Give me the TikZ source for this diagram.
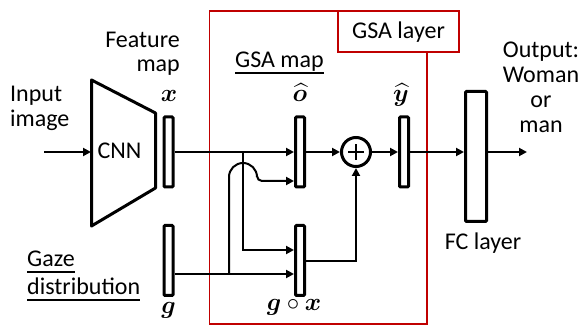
\documentclass[tikz,border=0pt]{standalone}
\usepackage{fontspec}
\setmainfont{Carlito}
\usepackage{amsmath}
\usepackage{bm}
\usetikzlibrary{arrows.meta}
\definecolor{gsared}{HTML}{C00000}
\begin{document}
\begin{tikzpicture}[x=1pt,y=-1pt,
  lbl/.style={inner sep=0pt,font=\fontsize{24}{25}\selectfont},
  mth/.style={inner sep=0pt,font=\fontsize{23}{25}\selectfont},
  bar/.style={draw,line width=3pt,rounded corners=1pt,minimum width=9pt,inner sep=0pt},
  conn/.style={line width=2pt,-{Triangle[length=8pt,width=8pt]}},
  uline/.style={line width=1.8pt}]
\useasboundingbox (0,0) rectangle (582,326);
% red GSA layer frame
\draw[gsared,line width=1.5pt] (209.5,11) rectangle (427,324);
\node[draw=gsared,fill=white,line width=1.5pt,minimum width=121pt,minimum height=41pt,inner sep=0pt] (gsabox) at (398.5,31.5) {};
\node[lbl,anchor=base] (gsalbl) at (398.5,39) {GSA layer};
% CNN
\draw[line width=3pt,line join=round] (91.5,80) -- (155.5,113) -- (155.5,188) -- (91.5,226) -- cycle;
\node[lbl,anchor=base] (cnn) at (119.5,159) {CNN};
\coordinate (cnnin) at (91,152);
\coordinate (inp) at (44,152);
% bars
\node[bar,minimum height=70pt] (xbar) at (168.5,152) {};
\node[bar,minimum height=70pt] (gbar) at (168.5,260.5) {};
\node[bar,minimum height=70pt] (obar) at (300,152) {};
\node[bar,minimum height=70pt] (gxbar) at (300,260.5) {};
\node[bar,minimum height=70pt] (ybar) at (404,152) {};
\node[bar,minimum width=21pt,minimum height=130pt] (fc) at (476,156.5) {};
\node[draw,circle,line width=3pt,minimum size=29pt,inner sep=0pt] (plus) at (356,152) {};
\draw[line width=1.5pt] ([xshift=-8pt]plus.center) -- ([xshift=8pt]plus.center)
  ([yshift=-8pt]plus.center) -- ([yshift=8pt]plus.center);
\coordinate (outp) at (527,152);
% connectors
\draw[conn] (inp) -- (cnnin);
\draw[conn] (xbar.east) -- (obar.west);
\coordinate (br) at (243,152);
\draw[conn] (br) -- (243,250) -- (gxbar.west |- 0,250);
\draw[conn] (gbar.east |- 0,274) -- (gxbar.west |- 0,274);
\draw[conn] (229,274) -- (229,177) arc[start angle=180,end angle=360,radius=14]
  [rounded corners=5pt] -- (257,181) -- (obar.west |- 0,181);
\draw[conn] (gxbar.east |- 0,261) -- (plus.south |- 0,261) -- (plus.south);
\draw[conn] (obar.east) -- (plus.west);
\draw[conn] (plus.east) -- (ybar.west);
\draw[conn] (ybar.east) -- (fc.west |- 0,152);
\draw[conn] (fc.east |- 0,152) -- (outp);
% texts
\node[lbl,anchor=base west] (in1) at (10,102) {Input};
\node[lbl,anchor=base west] (in2) at (10,127) {image};
\node[lbl,anchor=base east] (fm1) at (180,48) {Feature};
\node[lbl,anchor=base east] (fm2) at (180,72) {map};
\node[mth,anchor=base] (xl) at (169,102) {$\bm{x}$};
\node[lbl,anchor=base west] (gz1) at (27,267) {Gaze};
\node[lbl,anchor=base west] (gz2) at (27,295) {distribution};
\draw[uline] ([yshift=-5pt]gz1.base west) -- ([yshift=-5pt]gz1.base east);
\draw[uline] ([yshift=-5pt]gz2.base west) -- ([yshift=-5pt]gz2.base east);
\node[mth,anchor=base] (gl) at (168.5,313) {$\bm{g}$};
\node[lbl,anchor=base west] (gsam) at (235,68) {GSA map};
\draw[uline] ([yshift=-5pt]gsam.base west) -- ([yshift=-5pt]gsam.base east);
\node[mth,anchor=base] (ol) at (300,102) {$\widehat{\bm{o}}$};
\node[mth,anchor=base] (yl) at (401,102) {$\widehat{\bm{y}}$};
\node[mth,anchor=base] (gxl) at (294,311) {$\bm{g}\circ\bm{x}$};
\node[lbl,anchor=base] (o1) at (541,58) {Output:};
\node[lbl,anchor=base] (o2) at (541,83) {Woman};
\node[lbl,anchor=base] (o3) at (541,108) {or};
\node[lbl,anchor=base] (o4) at (541,133) {man};
\node[lbl,anchor=base] (fcl) at (483,250) {FC layer};
\end{tikzpicture}
\end{document}
